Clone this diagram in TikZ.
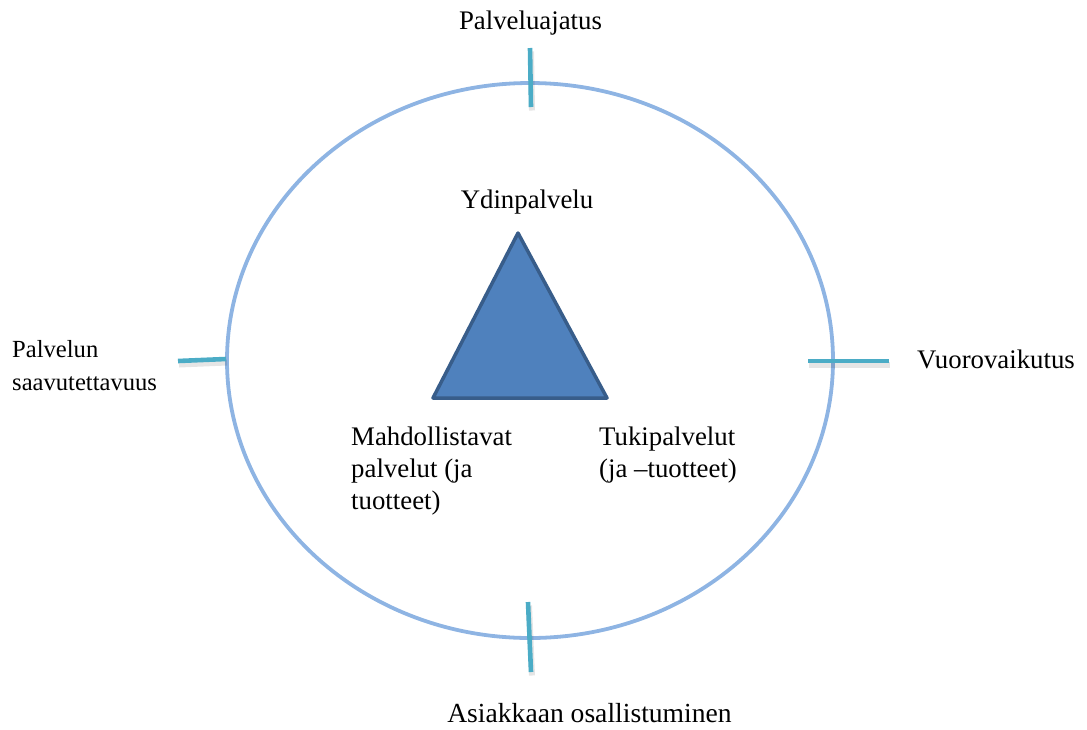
\documentclass[tikz,border=0pt]{standalone}
\usepackage{fontspec}
\setmainfont{Liberation Serif}
\definecolor{ringblue}{HTML}{8EB4E3}
\definecolor{tickteal}{HTML}{4BACC6}
\definecolor{trifill}{HTML}{4F81BD}
\definecolor{triedge}{HTML}{385D8A}
\tikzset{
  ring/.style={draw=ringblue, line width=3.8pt},
  tick/.style={draw=tickteal, line width=4.6pt},
  tickshadow/.style={draw=black, opacity=0.10, line width=6pt},
  core/.style={fill=trifill, draw=triedge, line width=3.5pt, line join=round},
  lbl/.style={inner sep=0pt, font=\fontsize{26.8}{32}\selectfont, align=left},
  lblsmall/.style={inner sep=0pt, font=\fontsize{24.6}{33}\selectfont, align=left},
}
\begin{document}
\begin{tikzpicture}[x=1pt, y=-1pt]
\useasboundingbox (0,0) rectangle (1087,729);

% outer ring
\draw[ring] (530,360.5) ellipse [x radius=303pt, y radius=277.5pt];

% tick marks across the ring
\coordinate (tTa) at (530,48);  \coordinate (tTb) at (531,107);
\coordinate (tLa) at (178,361); \coordinate (tLb) at (226,359);
\coordinate (tRa) at (808,361); \coordinate (tRb) at (889,361);
\coordinate (tBa) at (528,602); \coordinate (tBb) at (531,672);
\foreach \a/\b in {tTa/tTb, tLa/tLb, tRa/tRb, tBa/tBb}{
  \draw[tickshadow] ([shift={(1,3.5)}]\a) -- ([shift={(1,3.5)}]\b);
  \draw[tick] (\a) -- (\b);
}

% core triangle
\coordinate (apex) at (518,233);
\coordinate (bl) at (433,398);
\coordinate (br) at (607,398);
\draw[core] (apex) -- (br) -- (bl) -- cycle;

% labels (multi-line nodes are placed by the baseline of their last line)
\node[lbl, anchor=base] (idea) at (530.5,29) {Palveluajatus};
\node[lbl, anchor=base] (corelbl) at (527,208) {Ydinpalvelu};
\node[lbl, anchor=base west] (inter) at (917,368) {Vuorovaikutus};
\node[lblsmall, anchor=base west] (access) at (12,390) {Palvelun\\saavutettavuus};
\node[lbl, anchor=base west] (enable) at (351,509) {Mahdollistavat\\palvelut (ja\\tuotteet)};
\node[lbl, anchor=base west] (support) at (599,477) {Tukipalvelut\\(ja –tuotteet)};
\node[lbl, anchor=base, font=\fontsize{27.6}{32}\selectfont] (part) at (589.5,722) {Asiakkaan osallistuminen};
\end{tikzpicture}
\end{document}
